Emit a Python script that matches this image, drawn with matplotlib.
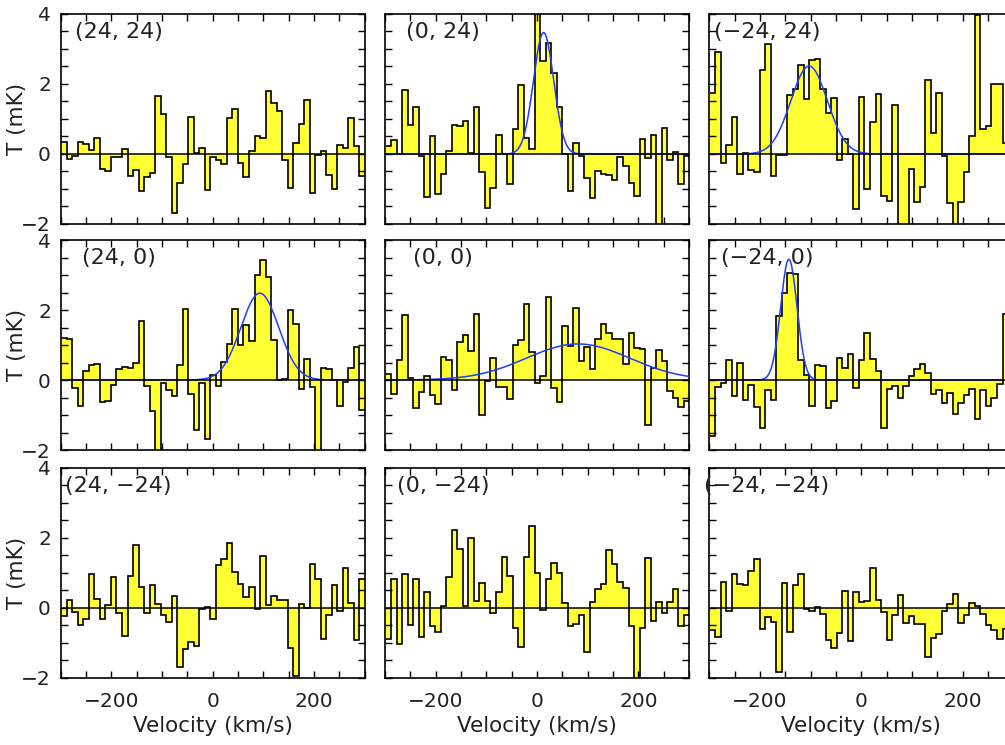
import numpy as np
import matplotlib.pyplot as plt

plt.rcParams['font.family'] = ['DejaVu Sans']

# velocity channels (km/s)
nchan = 55
dv = 10.9
v_first = -293.5
vel = v_first + dv * np.arange(nchan)
edges = np.append(vel - dv / 2, vel[-1] + dv / 2)

# antenna temperature per channel (mK), one array per offset position
t_p24_p24 = [0.34, -0.15, -0.07, 0.34, 0.28, 0.10, 0.47, -0.42, -0.50, -0.10, -0.09,
             0.13, -0.64, -0.45, -1.06, -0.66, -0.54, 1.65, 1.14, -0.09, -1.70, -0.82,
             -0.28, 1.06, 0.04, 0.17, -1.04, -0.09, -0.18, -0.30, 1.04, 1.29, -0.26,
             -0.66, 0.08, 0.50, 0.46, 1.80, 1.47, 1.23, -0.16, -0.96, 0.31, 0.85, 1.53,
             -1.11, -0.04, 0.09, -0.61, -0.99, 0.27, 0.17, 1.04, 0.22, -0.63]
t_0_p24 = [0.23, 0.41, 0.00, 1.82, 0.82, 1.35, -0.07, -1.23, 0.50, -1.14, -0.58,
           0.09, 0.84, 0.80, 0.94, 0.02, 1.35, -0.52, -1.54, -0.96, 0.53, 0.00,
           -0.87, 0.70, 1.97, 0.47, 0.13, 4.30, 2.65, 3.16, 2.32, 1.35, 0.00,
           -1.06, 0.30, -0.05, -0.70, -1.27, -0.50, -0.58, -0.60, -0.74, -0.10, -0.35,
           -0.83, -1.20, 0.44, -0.12, 0.55, -2.30, 0.75, -0.18, 0.07, -0.87, -0.07]
t_m24_p24 = [1.75, 2.90, -0.26, 0.27, 1.06, -0.56, 0.03, -0.45, -0.52, 2.40, 3.13,
             -0.64, -0.02, -0.04, 1.68, 1.85, 2.54, 1.58, 2.68, 2.70, 1.87, 1.16,
             1.60, -0.16, 0.44, 0.00, -1.57, 1.63, -0.99, 0.92, 1.71, -1.21, -1.33,
             1.39, -2.30, -2.30, -0.42, -1.37, -0.95, 2.11, 0.60, 1.73, -0.07, -1.40,
             -2.30, -1.36, -0.52, 0.50, 3.97, 0.71, 0.80, 2.01, 2.00, 0.30, 0.00]
t_p24_0 = [1.20, 1.18, -0.22, -0.74, 0.26, 0.43, 0.46, -0.63, -0.60, -0.14, 0.32,
           0.37, 0.33, 0.49, 1.68, -0.17, -0.88, -2.30, -0.08, -0.29, -0.45, 0.42,
           2.04, -0.39, -1.43, -0.09, -1.69, 0.14, -0.16, 0.51, 1.03, 2.04, 0.99,
           1.58, 1.11, 3.00, 3.43, 2.94, 1.14, -0.01, 0.04, 2.01, 1.61, -0.25, 0.59,
           -0.19, -2.30, 0.35, 0.32, 0.00, -0.74, -0.05, 0.35, 0.95, -0.86]
t_0_0 = [0.16, -0.41, 0.56, 1.87, 0.05, -0.79, -0.34, 0.11, -0.44, -0.69, 0.65,
         0.57, -0.29, 1.08, 1.30, 0.82, 1.89, -1.00, -0.03, 0.64, -0.20, -0.20,
         -0.55, 1.01, 1.14, 2.17, 0.81, -0.09, 0.11, 2.36, -0.22, -0.62, 1.55,
         0.97, 2.06, 0.54, 0.94, 0.32, 1.18, 1.60, 1.35, 1.18, 1.17, 0.45, 1.35,
         0.92, 0.90, -1.29, 0.33, 0.85, 0.54, -0.31, -0.50, -0.77, -0.60]
t_m24_0 = [-1.59, -0.20, -0.09, 0.56, -0.45, 0.49, -0.58, -0.14, -0.77, -1.37, -0.28,
           -0.58, 1.84, 2.50, 3.07, 3.02, 0.56, 0.13, -0.75, 0.43, 0.41, -0.81,
           -0.60, 0.62, 0.35, 0.73, -0.24, 0.56, 1.34, 0.60, 0.27, -1.38, -0.27,
           -0.17, -0.50, -0.17, 0.11, 0.32, 0.47, 0.21, -0.41, -0.28, -0.66, -0.36,
           -0.98, -0.66, -0.43, -0.25, -1.10, -0.28, -0.74, -0.52, -0.12, 1.89, 1.90]
t_p24_m24 = [-0.24, 0.21, -0.12, -0.49, -0.31, 0.97, 0.26, -0.33, 0.09, 0.87, -0.15,
             -0.82, 0.90, 1.78, 0.59, -0.15, 0.66, 0.11, -0.22, -0.41, 0.33, -1.68,
             -1.19, -0.98, -1.08, -0.05, 0.02, -0.33, 1.21, 1.40, 1.86, 1.02, 0.68,
             0.32, 0.59, -0.05, 1.47, 0.09, 0.33, 0.21, 0.21, -1.15, -1.94, 0.10,
             0.00, 1.26, 0.83, -0.89, -0.20, 0.64, -0.10, 1.14, 0.14, -0.92, 0.81]
t_0_m24 = [-0.89, 0.83, -1.03, 0.95, -0.49, 0.83, -0.84, 0.45, -0.53, -0.70, 0.04,
           0.89, 2.23, 1.67, 0.05, 1.98, 0.18, 0.71, 0.19, -0.14, 0.44, 1.45,
           0.91, -0.57, -1.13, 1.45, 2.34, 0.99, -0.06, 0.83, 1.29, 1.00, 0.14,
           -0.51, -0.46, -0.20, -1.27, 0.16, 0.53, 0.68, 1.65, 1.24, 0.74, 0.56,
           -0.52, -2.20, -0.58, 1.43, -0.38, 0.16, -0.15, 0.16, 0.53, -0.53, -0.22]
t_m24_m24 = [-0.65, -0.84, 0.74, -0.08, 0.95, 0.69, 0.64, 1.05, 1.38, -0.60, -0.27,
             -0.41, -1.83, 0.71, -0.70, 0.66, 0.97, -0.03, -0.08, 0.02, -0.17, -0.91,
             -1.16, -0.72, 0.48, -0.94, 0.45, 0.16, 0.18, 1.14, 0.21, -0.12, -0.91,
             -0.22, 0.35, -0.44, -0.25, -0.46, -0.46, -1.41, -0.87, -0.76, -0.10, 0.11,
             0.40, -0.43, -0.22, 0.14, 0.05, -0.17, -0.48, -0.63, -0.89, -0.60, -0.70]

panel_labels = ["(24, 24)", "(0, 24)", "(\u221224, 24)",
                "(24, 0)", "(0, 0)", "(\u221224, 0)",
                "(24, \u221224)", "(0, \u221224)", "(\u221224, \u221224)"]
spectra = [t_p24_p24, t_0_p24, t_m24_p24,
           t_p24_0, t_0_0, t_m24_0,
           t_p24_m24, t_0_m24, t_m24_m24]
# gaussian fits: (peak mK, centre km/s, FWHM km/s)
fits = [None, (3.47, 13, 47), (2.51, -103, 85),
        (2.48, 93, 88), (1.03, 81, 240), (3.45, -143, 38),
        None, None, None]

W, H = 1005, 745
fig = plt.figure(figsize=(W / 100, H / 100), dpi=100)

col_left = [60.7, 385, 709.3]
row_top = [14, 240, 467.7]
pw, ph = 304, 210

xfine = np.linspace(-300, 300, 1201)
xt = np.arange(-300, 301, 50)
yt = np.arange(-2, 4.01, 0.5)
txt = '#222222'

for k in range(9):
    r, c = divmod(k, 3)
    ax = fig.add_axes([col_left[c] / W, 1 - (row_top[r] + ph) / H, pw / W, ph / H])
    T = np.array(spectra[k])
    ax.stairs(T, edges, baseline=0, fill=True, color='#ffff33', zorder=1)
    ax.stairs(T, edges, baseline=None, color='black', lw=1.2, zorder=2)
    if fits[k] is not None:
        a, v0, fw = fits[k]
        g = a * np.exp(-4 * np.log(2) * (xfine - v0) ** 2 / fw ** 2)
        ax.plot(xfine, g, color='#1f3cff', lw=1.1, zorder=3)
    ax.axhline(0, color='black', lw=1.1, zorder=4)

    ax.set_xlim(-300, 300)
    ax.set_ylim(-2, 4)
    ax.set_xticks(xt)
    ax.set_yticks(yt)
    if r == 2:
        ax.set_xticklabels(['\u2212200' if v == -200 else (str(v) if v in (0, 200) else '') for v in xt])
        ax.set_xlabel('Velocity (km/s)', fontsize=15.5, color=txt)
        ax.xaxis.set_label_coords(0.5, -0.18)
    else:
        ax.set_xticklabels([])
    if c == 0:
        ax.set_yticklabels([('\u2212' + str(int(-v)) if v < 0 else str(int(v))) if v == int(v) and int(v) % 2 == 0 else '' for v in yt])
        ax.set_ylabel('T (mK)', fontsize=15.5, color=txt)
        ax.yaxis.set_label_coords(-0.11, 0.5)
    else:
        ax.set_yticklabels([])
    ax.tick_params(direction='in', top=True, right=True, length=5, width=1,
                   labelsize=14.5, labelcolor=txt)
    ax.tick_params(axis='x', pad=10)
    ax.tick_params(axis='y', pad=7)
    for s in ax.spines.values():
        s.set_linewidth(1.2)
    ax.text(0.19, 0.915, panel_labels[k], transform=ax.transAxes,
            ha='center', va='center', fontsize=16, color=txt, zorder=5)

fig.savefig('out.png', dpi=100)
